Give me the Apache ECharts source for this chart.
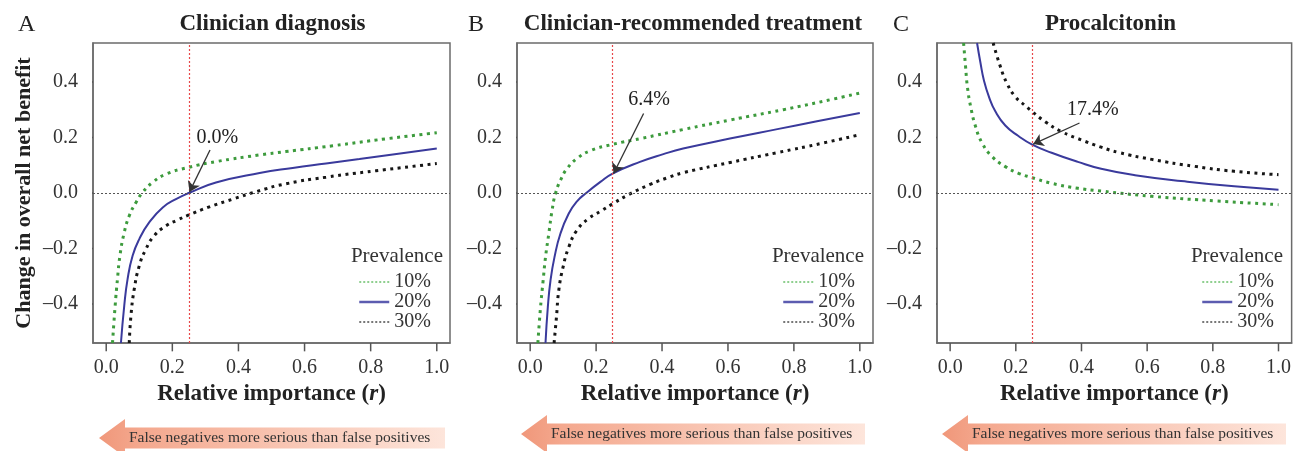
<!DOCTYPE html>
<html>
<head>
<meta charset="utf-8">
<script src="https://cdn.jsdelivr.net/npm/echarts@6/dist/echarts.min.js"></script>
<style>
html,body{margin:0;padding:0;background:#fff;}
#chart{width:1294px;height:451px;}
</style>
</head>
<body>
<div id="chart"></div>
<script>
// ---------- data ----------
const xTicks = [0, 0.2, 0.4, 0.6, 0.8, 1.0];
const yTicks = [-0.4, -0.2, 0, 0.2, 0.4];
const prevalence = ['10%', '20%', '30%'];
const panelLetters = ['A', 'B', 'C'];
const panelTitles = ['Clinician diagnosis', 'Clinician-recommended treatment', 'Procalcitonin'];
const refR = 0.25;

// Panel A: Clinician diagnosis  [r, change in overall net benefit]
const diag10 = [[0.019,-0.54],[0.027,-0.406],[0.034,-0.31],[0.0415,-0.226],[0.0545,-0.142],[0.0697,-0.082],[0.09,-0.034],[0.11,0.002],[0.14,0.038],[0.181,0.068],[0.248,0.092],[0.332,0.113],[0.464,0.137],[0.543,0.149],[0.685,0.17],[0.846,0.195],[1.0,0.217]];
const diag20 = [[0.0445,-0.54],[0.0545,-0.406],[0.0646,-0.31],[0.0798,-0.226],[0.1,-0.166],[0.13,-0.106],[0.171,-0.052],[0.211,-0.022],[0.25,0],[0.332,0.038],[0.464,0.072],[0.564,0.09],[0.665,0.106],[0.766,0.122],[0.867,0.139],[1.0,0.16]];
const diag30 = [[0.0697,-0.54],[0.0748,-0.442],[0.0848,-0.346],[0.1,-0.262],[0.12,-0.202],[0.145,-0.154],[0.181,-0.118],[0.216,-0.097],[0.248,-0.08],[0.312,-0.05],[0.383,-0.022],[0.454,0.005],[0.543,0.033],[0.665,0.057],[0.816,0.08],[1.0,0.106]];

// Panel B: Clinician-recommended treatment
const treat10 = [[0.0233,-0.54],[0.0314,-0.411],[0.0393,-0.315],[0.0465,-0.231],[0.0565,-0.146],[0.0665,-0.062],[0.0767,-0.002],[0.092,0.046],[0.112,0.088],[0.142,0.124],[0.182,0.152],[0.25,0.175],[0.335,0.196],[0.466,0.229],[0.607,0.263],[0.768,0.300],[0.919,0.338],[1.0,0.36]];
const treat20 = [[0.0465,-0.54],[0.0535,-0.411],[0.0616,-0.315],[0.0737,-0.231],[0.0918,-0.146],[0.117,-0.074],[0.142,-0.03],[0.17,0],[0.213,0.04],[0.25,0.07],[0.333,0.112],[0.404,0.14],[0.464,0.16],[0.606,0.196],[0.75,0.23],[0.87,0.258],[1.0,0.288]];
const treat30 = [[0.0725,-0.54],[0.0797,-0.447],[0.0867,-0.351],[0.0997,-0.267],[0.117,-0.195],[0.142,-0.134],[0.177,-0.092],[0.213,-0.066],[0.25,-0.039],[0.3,-0.005],[0.364,0.031],[0.424,0.058],[0.464,0.073],[0.607,0.11],[0.748,0.145],[0.889,0.18],[1.0,0.21]];

// Panel C: Procalcitonin
const pct10 = [[0.041,0.54],[0.047,0.455],[0.0525,0.383],[0.0625,0.311],[0.0776,0.239],[0.0977,0.179],[0.128,0.131],[0.168,0.095],[0.208,0.071],[0.25,0.055],[0.309,0.035],[0.389,0.017],[0.46,0.007],[0.614,-0.012],[0.815,-0.029],[1.0,-0.042]];
const pct20 = [[0.082,0.54],[0.0926,0.467],[0.1026,0.407],[0.118,0.347],[0.138,0.293],[0.168,0.243],[0.208,0.205],[0.25,0.174],[0.309,0.145],[0.389,0.112],[0.46,0.087],[0.563,0.064],[0.714,0.042],[0.865,0.024],[1.0,0.012]];
const pct30 = [[0.131,0.54],[0.153,0.455],[0.173,0.395],[0.198,0.347],[0.228,0.315],[0.25,0.293],[0.289,0.257],[0.339,0.221],[0.4,0.191],[0.46,0.165],[0.513,0.146],[0.614,0.121],[0.744,0.096],[0.865,0.078],[1.0,0.066]];

// Annotations
const annotLabels = ['0.0%', '6.4%', '17.4%'];
const annotTextAt = [[0.273,0.20],[0.297,0.334],[0.356,0.30]];
const annotArrowFrom = [[0.314,0.155],[0.344,0.286],[0.394,0.252]];
const annotArrowTo = [[0.252,0.004],[0.253,0.07],[0.253,0.176]];
const bottomNote = 'False negatives more serious than false positives';

// ---------- layout / style ----------
const FONT = '"Liberation Serif", "Times New Roman", serif';
const panels = [[diag10, diag20, diag30], [treat10, treat20, treat30], [pct10, pct20, pct30]];
const grids = [
  {left: 93, top: 43, width: 357, height: 300},
  {left: 517, top: 43, width: 356, height: 300},
  {left: 937, top: 43, width: 356, height: 300}
];
const X_MIN = -0.04, X_MAX = 1.04, Y_MIN = -0.54, Y_MAX = 0.54;
const lineStyles = [
  {color: '#3d9b3d', width: 3, type: [3, 4.5]},
  {color: '#3a3a9c', width: 2, type: 'solid'},
  {color: '#161616', width: 3, type: [3, 4.5]}
];
const legendLineStyles = [
  {color: '#8fcf8f', width: 2, type: [2, 2]},
  {color: '#5c5cb0', width: 2.5, type: 'solid'},
  {color: '#777777', width: 2, type: [2, 2]}
];
const legendLeft = [358, 782, 1201];
const prevRight = [443, 864, 1283];
const titleCenter = [272.5, 693, 1110.5];
const letterLeft = [18, 468, 893];
const arrowTip = [99, 521, 942];
const arrowRight = [445, 865, 1286];
const arrowMid = [438, 434, 434];

const AXIS_GRAY = '#6b6b6b';
// tick length expressed in axis units (about 8 px on these axes)
const X_TICK_LEN = 0.025, Y_TICK_LEN = 0.03;
const yFmt = v => (v < -1e-9 ? '\u2013' : '') + Math.abs(v).toFixed(1);

const xAxes = grids.map((g, i) => ({
  type: 'value', gridIndex: i, min: X_MIN, max: X_MAX,
  name: 'Relative importance ({i|r})',
  nameLocation: 'middle', nameGap: 40,
  nameTextStyle: {fontFamily: FONT, fontSize: 23, fontWeight: 'bold', color: '#222',
    rich: {i: {fontFamily: FONT, fontSize: 23, fontWeight: 'bold', fontStyle: 'italic', color: '#222'}}},
  axisLine: {show: true, onZero: false, lineStyle: {color: AXIS_GRAY, width: 1.5}},
  axisTick: {show: false},
  axisLabel: {customValues: xTicks, formatter: v => v.toFixed(1), margin: 15,
    fontFamily: FONT, fontSize: 20, color: '#333'},
  splitLine: {show: false}
}));

const yAxes = grids.map((g, i) => ({
  type: 'value', gridIndex: i, min: Y_MIN, max: Y_MAX,
  name: i === 0 ? 'Change in overall net benefit' : '',
  nameLocation: 'middle', nameGap: 58,
  nameTextStyle: {fontFamily: FONT, fontSize: 22, fontWeight: 'bold', color: '#222'},
  axisLine: {show: true, onZero: false, lineStyle: {color: AXIS_GRAY, width: 1.5}},
  axisTick: {show: false},
  axisLabel: {customValues: yTicks, formatter: yFmt, margin: 15,
    fontFamily: FONT, fontSize: 20, color: '#333'},
  splitLine: {show: false}
}));

const series = [];
panels.forEach((curves, p) => {
  curves.forEach((data, k) => {
    const s = {
      type: 'line', name: prevalence[k], xAxisIndex: p, yAxisIndex: p,
      data: data, symbol: 'none', showSymbol: false,
      smooth: 0.5, clip: true, silent: true,
      lineStyle: lineStyles[k], itemStyle: {color: lineStyles[k].color}, z: 3
    };
    if (k === 1) {
      s.markLine = {
        silent: true, symbol: 'none', label: {show: false}, animation: false,
        data: [
          {xAxis: refR, lineStyle: {color: '#e8484a', width: 1.2, type: [2, 2]}},
          {yAxis: 0, lineStyle: {color: '#555', width: 1, type: [2, 2]}}
        ]
      };
    }
    series.push(s);
  });
  series.push({
    type: 'scatter', xAxisIndex: p, yAxisIndex: p, silent: true,
    data: [annotTextAt[p]], symbolSize: 0.1, itemStyle: {color: '#222', opacity: 1},
    label: {show: true, position: 'right', distance: 0, formatter: annotLabels[p],
      fontFamily: FONT, fontSize: 20, color: '#222', opacity: 1},
    z: 5,
    markLine: {
      silent: true, symbol: ['none', 'arrow'], symbolSize: 10, animation: false,
      label: {show: false},
      lineStyle: {color: '#333', width: 1.3, type: 'solid'},
      data: [[{coord: annotArrowFrom[p]}, {coord: annotArrowTo[p]}]]
    }
  });
  // tick marks outside the box, drawn as short unclipped line segments on the axes' scales
  xTicks.forEach(v => {
    series.push({
      type: 'line', xAxisIndex: p, yAxisIndex: p, silent: true, clip: false,
      symbol: 'none', showSymbol: false, z: 6, legendHoverLink: false,
      lineStyle: {color: '#555', width: 1.5, type: 'solid'},
      data: [[v, Y_MIN], [v, Y_MIN - Y_TICK_LEN]]
    });
  });
  yTicks.forEach(v => {
    series.push({
      type: 'line', xAxisIndex: p, yAxisIndex: p, silent: true, clip: false,
      symbol: 'none', showSymbol: false, z: 6, legendHoverLink: false,
      lineStyle: {color: '#555', width: 1.5, type: 'solid'},
      data: [[X_MIN, v], [X_MIN - X_TICK_LEN, v]]
    });
  });
});

const legends = grids.map((g, i) => ({
  orient: 'vertical', left: legendLeft[i], top: 272, padding: 0,
  itemWidth: 30, itemHeight: 10, itemGap: 0, selectedMode: false,
  textStyle: {fontFamily: FONT, fontSize: 20, lineHeight: 19, color: '#333'},
  data: prevalence.map((n, k) => ({name: n, lineStyle: legendLineStyles[k],
    itemStyle: {color: 'rgba(0,0,0,0)', borderWidth: 0, opacity: 0}}))
}));

const txt = (x, y, text, size, weight, align, color) => ({
  type: 'text', x: x, y: y, silent: true, z: 10,
  style: {text: text, fontFamily: FONT, fontSize: size, fontWeight: weight || 'normal',
    fill: color || '#222', align: align || 'left', textAlign: align || 'left',
    verticalAlign: 'middle', textVerticalAlign: 'middle'}
});

const graphics = [];
grids.forEach((g, i) => {
  graphics.push(txt(letterLeft[i], 25, panelLetters[i], 24, 'normal', 'left', '#222'));
  graphics.push(txt(titleCenter[i], 24.5, panelTitles[i], 23, 'bold', 'center', '#222'));
  graphics.push(txt(prevRight[i], 256.5, 'Prevalence', 21, 'normal', 'right', '#333'));
  const t = arrowTip[i], r = arrowRight[i], m = arrowMid[i], hb = t + 26;
  graphics.push({
    type: 'polygon', silent: true,
    shape: {points: [[t, m], [hb, m - 19], [hb, m - 10.5], [r, m - 10.5], [r, m + 10.5], [hb, m + 10.5], [hb, m + 19]]},
    style: {fill: {type: 'linear', x: 0, y: 0, x2: 1, y2: 0, global: false,
      colorStops: [{offset: 0, color: '#f0977a'}, {offset: 0.12, color: '#f4a88e'}, {offset: 1, color: '#fde5db'}]}}
  });
  graphics.push(txt(t + 30, m, bottomNote, 15.5, 'normal', 'left', '#333'));
});

const chart = echarts.init(document.getElementById('chart'), null, {renderer: 'canvas'});
chart.setOption({
  animation: false,
  backgroundColor: '#ffffff',
  grid: grids.map(g => Object.assign({show: true, borderColor: AXIS_GRAY, borderWidth: 1.5, backgroundColor: 'rgba(0,0,0,0)'}, g)),
  xAxis: xAxes,
  yAxis: yAxes,
  legend: legends,
  series: series,
  graphic: graphics
});
</script>
</body>
</html>
